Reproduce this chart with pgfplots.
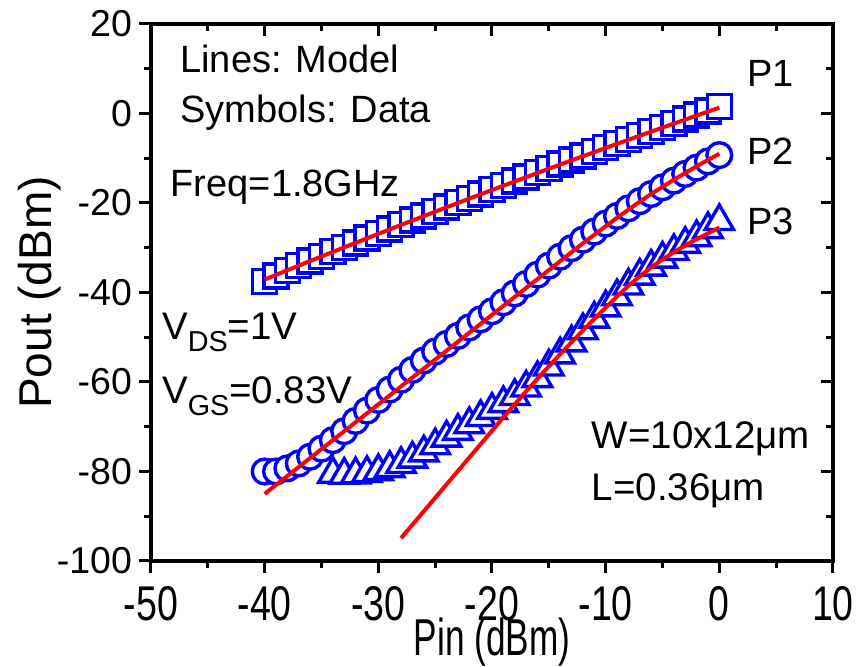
\documentclass[border=0pt]{standalone}
\usepackage{pgfplots}
\pgfplotsset{compat=1.18}
\usepackage{fontspec}
\setmainfont{Liberation Sans}
\definecolor{myblue}{RGB}{0,0,255}
\definecolor{myred}{RGB}{255,0,0}
\newcommand{\subs}[1]{\raisebox{-5.8pt}{\fontsize{14.4}{14.4}\selectfont #1}}
\begin{document}
\begin{tikzpicture}
\useasboundingbox (-75.5pt,-53pt) rectangle (353pt,280.5pt);
\pgfplotsset{
  common/.style={
    at={(0pt,0pt)}, anchor=south west,
    width=341pt, height=268.5pt, scale only axis,
    xmin=-50, xmax=10, ymin=-100, ymax=20,
    xtick={-50,-40,...,10}, ytick={-100,-80,...,20},
    minor x tick num=1, minor y tick num=1,
    major tick length=6pt, minor tick length=3.5pt,
    axis line style={line width=2pt},
    every tick/.append style={line width=1.5pt, black},
  }
}
\begin{axis}[common,
  clip=false, clip marker paths=true,
  tick pos=left, tick align=outside,
  /pgf/number format/assume math mode=true,
  yticklabel style={font=\fontsize{18.75}{20}\selectfont},
  xticklabel style={font=\fontsize{18.75}{20}\selectfont, yscale=1.3, inner sep=0.5pt, yshift=-4.5pt},
  xlabel={Pin (dBm)},
  ylabel={Pout (dBm)},
  xlabel style={font=\fontsize{22}{24}\selectfont, anchor=base, at={(axis description cs:0.5,0)}, yshift=-47.5pt, xscale=0.8, yscale=1.18, inner sep=0pt},
  ylabel style={font=\fontsize{23}{25}\selectfont, anchor=base, at={(axis description cs:0,0.5)}, yshift=49.5pt},
]
% P1 data (squares)
\addplot[myblue, line width=1.7pt, only marks, mark=square*, mark size=6pt, mark options={fill=white, line width=1.7pt}] coordinates {
(-40,-37.5) (-39,-36.3) (-38,-35.1) (-37,-34.0) (-36,-33.0) (-35,-31.9) (-34,-30.9) (-33,-29.9) (-32,-28.9) (-31,-27.8)
(-30,-26.8) (-29,-25.8) (-28,-24.8) (-27,-23.8) (-26,-22.9) (-25,-21.9) (-24,-20.9) (-23,-19.9) (-22,-19.0) (-21,-18.0)
(-20,-17.0) (-19,-16.1) (-18,-15.1) (-17,-14.2) (-16,-13.2) (-15,-12.3) (-14,-11.3) (-13,-10.4) (-12,-9.5) (-11,-8.5)
(-10,-7.6) (-9,-6.7) (-8,-5.8) (-7,-4.9) (-6,-4.0) (-5,-3.1) (-4,-2.2) (-3,-1.2) (-2,-0.3) (-1,0.6) (0,1.6)
};
% P2 data (circles)
\addplot[myblue, line width=1.7pt, only marks, mark=*, mark size=6.2pt, mark options={fill=white, line width=1.7pt}] coordinates {
(-40,-80.0) (-39,-80.0) (-38,-79.3) (-37,-78.2) (-36,-76.7) (-35,-74.9) (-34,-73.0) (-33,-71.0) (-32,-68.7) (-31,-66.4)
(-30,-64.0) (-29,-61.7) (-28,-59.5) (-27,-57.3) (-26,-55.2) (-25,-53.2) (-24,-51.5) (-23,-49.7) (-22,-47.8) (-21,-46.0)
(-20,-44.2) (-19,-42.2) (-18,-40.2) (-17,-38.1) (-16,-36.0) (-15,-34.0) (-14,-32.0) (-13,-30.1) (-12,-28.2) (-11,-26.4)
(-10,-24.6) (-9,-22.9) (-8,-21.2) (-7,-19.6) (-6,-18.0) (-5,-16.5) (-4,-15.0) (-3,-13.5) (-2,-12.1) (-1,-10.7) (0,-9.3)
};
% P3 data (triangles)
\addplot[myblue, line width=1.7pt, only marks, mark=triangle*, mark size=8.2pt, mark options={fill=white, line width=1.7pt}] coordinates {
(-34,-80.6) (-33,-80.8) (-32,-80.7) (-31,-80.4) (-30,-80.0) (-29,-79.3) (-28,-78.4) (-27,-77.2) (-26,-75.8) (-25,-74.2)
(-24,-72.5) (-23,-71.0) (-22,-69.5) (-21,-67.9) (-20,-66.3) (-19,-64.8) (-18,-63.2) (-17,-61.3) (-16,-59.2) (-15,-56.6)
(-14,-53.9) (-13,-51.2) (-12,-48.5) (-11,-45.9) (-10,-43.4) (-9,-40.9) (-8,-38.5) (-7,-36.3) (-6,-34.3) (-5,-32.5)
(-4,-30.8) (-3,-29.2) (-2,-27.7) (-1,-25.9) (0,-24.1)
};
% Model lines
\addplot[myred, line width=2pt, no marks] coordinates {
(-40,-37.10) (-38,-35.03) (-36,-32.97) (-34,-30.93) (-32,-28.91) (-30,-26.90) (-28,-24.91) (-26,-22.93) (-24,-20.97)
(-22,-19.03) (-20,-17.10) (-18,-15.19) (-16,-13.29) (-14,-11.41) (-12,-9.55) (-10,-7.70) (-8,-5.87) (-6,-4.07)
(-4,-2.25) (-2,-0.47) (0,1.30)
};
\addplot[myred, line width=2pt, no marks] coordinates {
(-40,-85.0) (-36,-77.0) (-32,-69.0) (-28,-61.0) (-24,-53.0) (-20,-45.0) (-16,-37.0) (-14,-33.0)
(-13,-31.0) (-12,-29.0) (-11,-27.1) (-10,-25.2) (-9,-23.3) (-8,-21.5) (-7,-19.7) (-6,-18.0) (-5,-16.4)
(-4,-14.8) (-3,-13.3) (-2,-11.8) (-1,-10.4) (0,-9.0)
};
\addplot[myred, line width=2pt, no marks] coordinates {
(-28,-94.9) (-26,-88.9) (-24,-82.9) (-22,-76.9) (-20,-70.9) (-19,-67.9) (-18,-65.0) (-17,-62.1) (-16,-59.3)
(-15,-56.5) (-14,-53.8) (-13,-51.1) (-12,-48.5) (-11,-45.9) (-10,-43.4) (-9,-40.9) (-8,-38.5) (-7,-36.4)
(-6,-34.4) (-5,-32.6) (-4,-31.0) (-3,-29.5) (-2,-28.1) (-1,-26.8) (0,-25.5)
};
\node[anchor=base west, inner sep=0pt, font=\fontsize{19}{20}\selectfont] at (axis cs:-47.45,9.05) {Lines: Model};
\node[anchor=base west, inner sep=0pt, font=\fontsize{19}{20}\selectfont] at (axis cs:-47.45,-2.1) {Symbols: Data};
\node[anchor=base west, inner sep=0pt, font=\fontsize{19}{20}\selectfont] at (axis cs:-48.3,-18.6) {Freq=1.8GHz};
\node[anchor=base west, inner sep=0pt, font=\fontsize{19.25}{20}\selectfont] at (axis cs:-49.06,-50.6) {V\subs{DS}=1V};
\node[anchor=base west, inner sep=0pt, font=\fontsize{19.25}{20}\selectfont] at (axis cs:-49.06,-64.8) {V\subs{GS}=0.83V};
\node[anchor=base west, inner sep=0pt, font=\fontsize{19.25}{20}\selectfont] at (axis cs:-11.24,-74.8) {W=10x12μm};
\node[anchor=base west, inner sep=0pt, font=\fontsize{19.25}{20}\selectfont] at (axis cs:-11.24,-86.4) {L=0.36μm};
\node[anchor=base west, inner sep=0pt, font=\fontsize{19}{20}\selectfont] at (axis cs:2.4,6.0) {P1};
\node[anchor=base west, inner sep=0pt, font=\fontsize{19}{20}\selectfont] at (axis cs:2.4,-11.5) {P2};
\node[anchor=base west, inner sep=0pt, font=\fontsize{19}{20}\selectfont] at (axis cs:2.4,-27.0) {P3};
\end{axis}
\begin{axis}[common,
  tick pos=right, tick align=inside,
  xticklabels={}, yticklabels={},
]
\end{axis}
\end{tikzpicture}
\end{document}
